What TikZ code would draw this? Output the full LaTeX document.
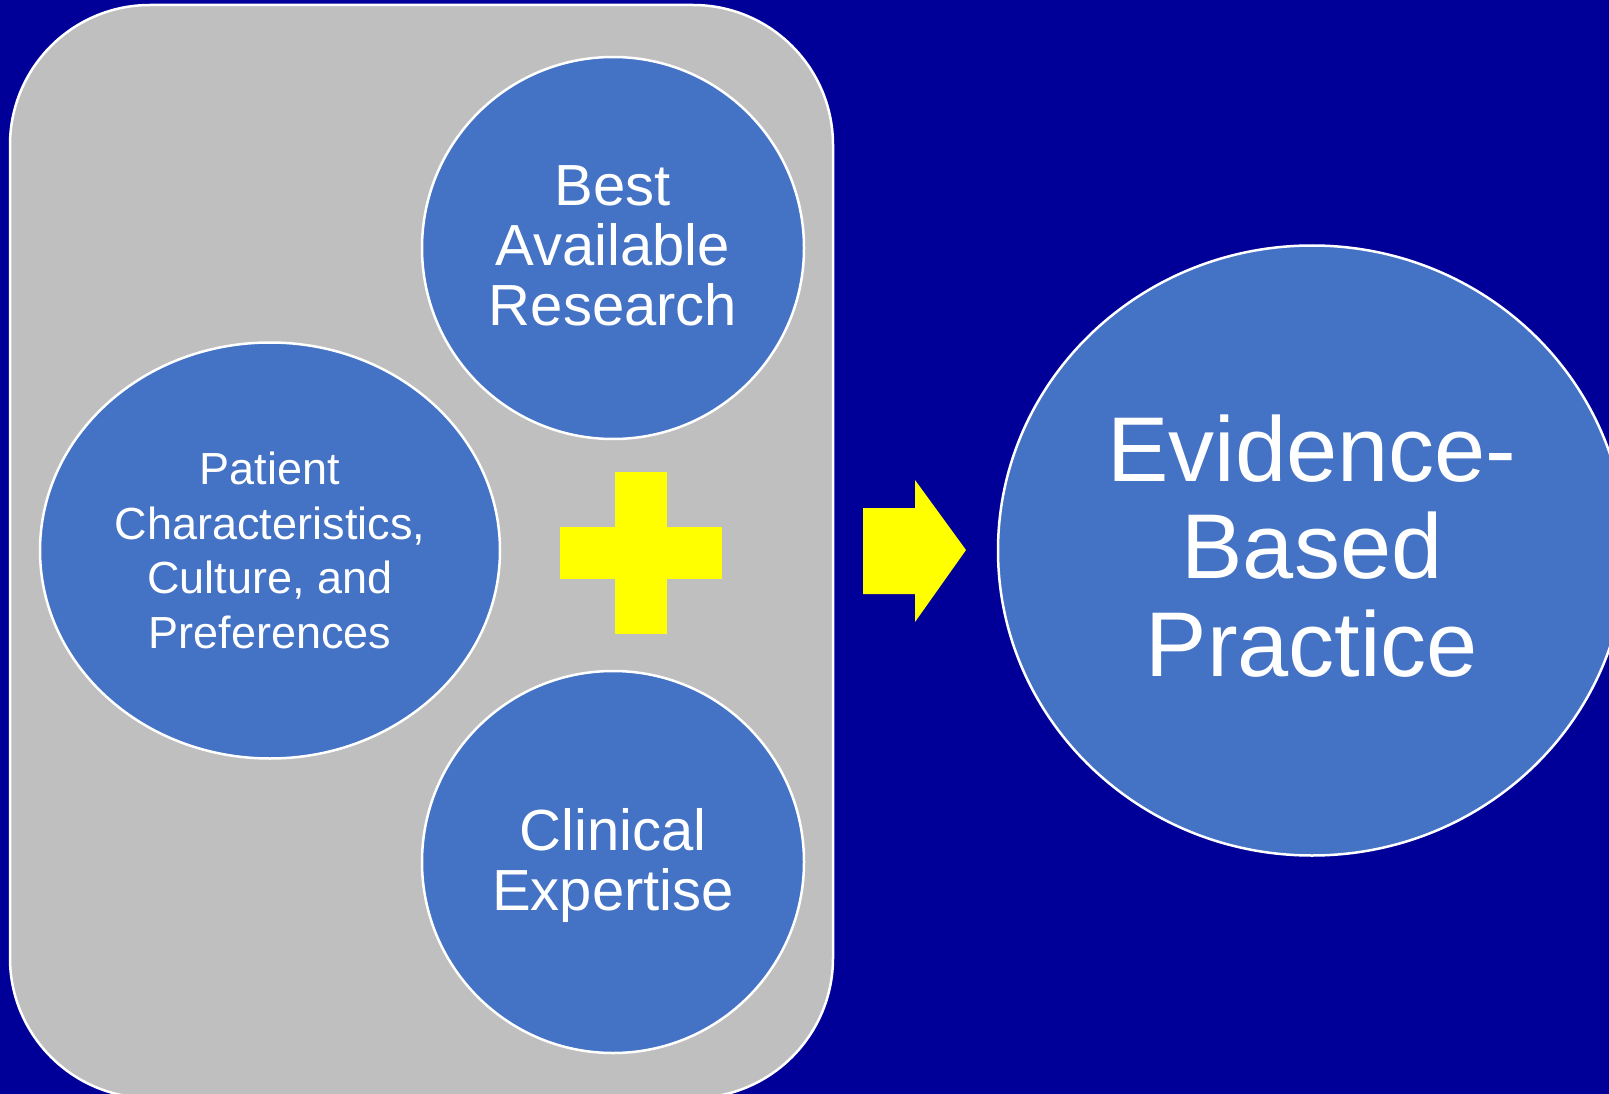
\documentclass[tikz,border=0pt]{standalone}
\usepackage{fontspec}
\setmainfont{Liberation Sans}
\usetikzlibrary{shapes.geometric}
\definecolor{bgblue}{HTML}{000099}
\definecolor{panelgray}{HTML}{BFBFBF}
\definecolor{circblue}{HTML}{4472C4}
\definecolor{plusyellow}{HTML}{FFFF00}
\tikzset{
  bubble/.style={ellipse, fill=circblue, draw=white, line width=2.5pt, inner sep=0pt},
  bubbletext/.style={text=white, align=center, inner sep=0pt},
  yellowshape/.style={fill=plusyellow, draw=none},
}
\begin{document}
\begin{tikzpicture}[x=1pt,y=-1pt]
\useasboundingbox (0,0) rectangle (1609,1094);
\fill[bgblue] (0,0) rectangle (1609,1094);
\begin{scope}
\clip (0,0) rectangle (1609,1094);
\draw[fill=panelgray, draw=white, line width=2.5pt, rounded corners=140pt] (10,5) rectangle (833,1098);
\node[bubble, minimum width=382pt, minimum height=382pt] (bar) at (613,248) {};
\node[bubble, minimum width=382pt, minimum height=382pt] (ce) at (613,862) {};
\node[bubble, minimum width=460pt, minimum height=416pt] (pc) at (270,550.5) {};
\node[bubble, minimum width=628pt, minimum height=610pt] (ebp) at (1312,550.5) {};
\end{scope}
\node[bubbletext, font=\fontsize{58}{60}\selectfont] (bart) at (613,246) {Best\\Available\\Research};
\node[bubbletext, font=\fontsize{58}{60}\selectfont] (cet) at (613,865) {Clinical\\Expertise};
\node[bubbletext, font=\fontsize{45}{54.5}\selectfont] (pct) at (270,550.5) {Patient\\Characteristics,\\Culture, and\\Preferences};
\node[bubbletext, font=\fontsize{92}{97.5}\selectfont] (ebpt) at (1312,546) {Evidence-\\Based\\Practice};
% plus sign
\fill[yellowshape] (615,472) rectangle (667,634);
\fill[yellowshape] (560,527) rectangle (722,579);
% arrow
\coordinate (tip) at (966,550);
\fill[yellowshape] (863,508) -- (915,508) -- (915,480) -- (tip) -- (915,622) -- (915,594) -- (863,594) -- cycle;
\end{tikzpicture}
\end{document}
